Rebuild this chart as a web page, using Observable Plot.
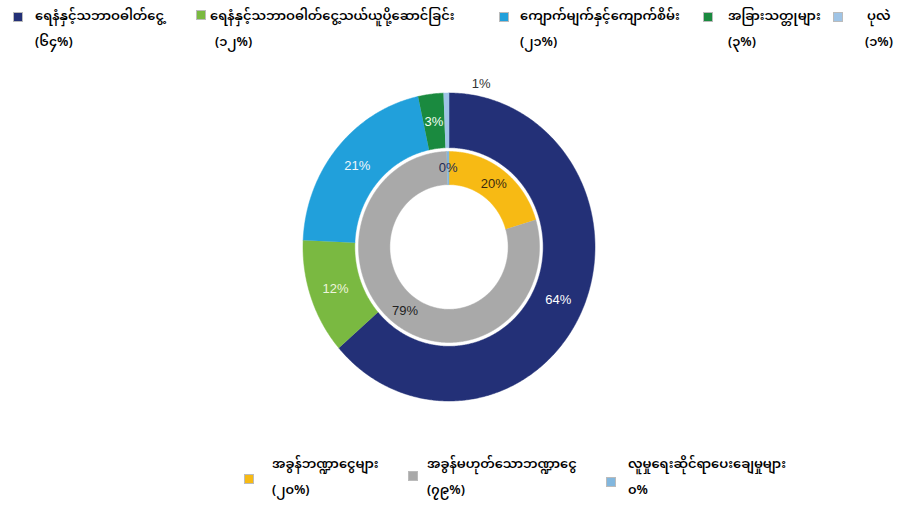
<!DOCTYPE html>
<html>
<head>
<meta charset="utf-8">
<script src="https://cdn.jsdelivr.net/npm/d3@7"></script>
<script src="https://cdn.jsdelivr.net/npm/@observablehq/plot@0.6"></script>
<style>
  html, body { margin: 0; padding: 0; background: #fff; }
  #wrap { position: relative; width: 906px; height: 511px; overflow: hidden; font-family: "Noto Sans Myanmar", "Padauk", "Myanmar Text", "Pyidaungsu", "Noto Sans", sans-serif; }
  .legend { position: relative; width: 906px; }
  .item { position: absolute; font-size: 13px; font-weight: 600; color: #000; line-height: 18px; white-space: nowrap; }
  .sw { position: absolute; width: 8px; height: 8px; box-shadow: 0 0 0 1px rgba(120,120,120,0.5); }
  .txt { position: absolute; }
  #chart svg { display: block; }
</style>
</head>
<body>
<div id="wrap">
  <div class="legend" id="topLegend" style="height:60px"></div>
  <div id="chart"></div>
  <div class="legend" id="bottomLegend" style="height:61px"></div>
</div>
<script>
// ---------- data ----------
const outerCats = ["ရေနံနှင့်သဘာဝဓါတ်ငွေ့", "ရေနံနှင့်သဘာဝဓါတ်ငွေ့သယ်ယူပို့ဆောင်ခြင်း", "ကျောက်မျက်နှင့်ကျောက်စိမ်း", "အခြားသတ္တုများ", "ပုလဲ"];
const outerValues = [63.6, 12.1, 20.9, 2.8, 0.6];
const outerLabels = ["64%", "12%", "21%", "3%", "1%"];
const outerLegendPct = ["(၆၄%)", "(၁၂%)", "(၂၁%)", "(၃%)", "(၁%)"];

const innerCats = ["အခွန်ဘဏ္ဍာငွေများ", "အခွန်မဟုတ်သောဘဏ္ဍာငွေ", "လူမှုရေးဆိုင်ရာပေးချေမှုများ"];
const innerValues = [20.4, 79.2, 0.4];
const innerLabels = ["20%", "79%", "0%"];
const innerLegendPct = ["(၂၀%)", "(၇၉%)", "၀%"];

// ---------- styles ----------
const outerColors = ["#233077", "#7ab941", "#21a0db", "#1a8a3f", "#9fc4e6"];
const innerColors = ["#f7ba14", "#a9a9a9", "#82b7de"];
const outerLabelColors = ["#ffffff", "#eef5dc", "#eef7fc", "#f2fff4", "#333333"];
const innerLabelColors = ["#3a2a10", "#222222", "#1d2b55"];

const rings = [
  {cats: outerCats, values: outerValues, labels: outerLabels, labelColors: outerLabelColors, r0: 0.645, r1: 1.0},
  {cats: innerCats, values: innerValues, labels: innerLabels, labelColors: innerLabelColors, r0: 0.405, r1: 0.62}
];

const polyPts = [];
const labelPts = [];
rings.forEach((ring, ri) => {
  const arcs = d3.pie().sort(null).value(d => d)(ring.values);
  arcs.forEach((a, i) => {
    const id = ri + "-" + i;
    const cat = ring.cats[i];
    const n = Math.max(2, Math.ceil((a.endAngle - a.startAngle) / (2 * Math.PI) * 720));
    for (let k = 0; k <= n; k++) {
      const t = a.startAngle + (a.endAngle - a.startAngle) * k / n;
      polyPts.push({id, cat, x: ring.r1 * Math.sin(t), y: ring.r1 * Math.cos(t)});
    }
    for (let k = n; k >= 0; k--) {
      const t = a.startAngle + (a.endAngle - a.startAngle) * k / n;
      polyPts.push({id, cat, x: ring.r0 * Math.sin(t), y: ring.r0 * Math.cos(t)});
    }
    const mid = (a.startAngle + a.endAngle) / 2;
    const small = ri === 0 && ring.values[i] < 1;
    const rm = small ? 1.06 : (ring.r0 + ring.r1) / 2;
    labelPts.push({text: ring.labels[i], color: ring.labelColors[i], small,
      x: rm * Math.sin(mid), y: rm * Math.cos(mid)});
  });
});

const allCats = [...outerCats, ...innerCats];
const allColors = [...outerColors, ...innerColors];

const pieCx = 448.5, pieCyPage = 246.5, svgTop = 60;
const pieRx = 146, pieRy = 154;
const pieCy = pieCyPage - svgTop;

const plot = Plot.plot({
  width: 906,
  height: 390,
  margin: 0,
  x: {domain: [-1, 1], range: [pieCx - pieRx, pieCx + pieRx], axis: null},
  y: {domain: [-1, 1], range: [pieCy + pieRy, pieCy - pieRy], axis: null},
  color: {domain: allCats, range: allColors},
  marks: [
    Plot.line(polyPts, {x: "x", y: "y", z: "id", fill: "cat", stroke: "cat", strokeWidth: 0.5, curve: "linear"}),
    Plot.text(labelPts.filter(d => !d.small), {x: "x", y: "y", text: "text", fill: d => d.color,
      fontSize: 13, fontFamily: "Liberation Sans, Arial, sans-serif"}),
    Plot.text(labelPts.filter(d => d.small), {x: "x", y: "y", text: "text", fill: d => d.color, dx: 35,
      fontSize: 13, fontFamily: "Liberation Sans, Arial, sans-serif"})
  ]
});
document.getElementById("chart").appendChild(plot);

// ---------- legends ----------
function addItem(container, color, name, pct, swX, swY, txtX, pctX, line1Y) {
  const it = document.createElement("div");
  it.className = "item";
  it.style.left = "0px"; it.style.top = "0px";
  const sw = document.createElement("div");
  sw.className = "sw"; sw.style.background = color;
  sw.style.left = swX + "px"; sw.style.top = swY + "px";
  const t1 = document.createElement("div");
  t1.className = "txt"; t1.textContent = name;
  t1.style.left = txtX + "px"; t1.style.top = (line1Y - 9) + "px";
  const t2 = document.createElement("div");
  t2.className = "txt"; t2.textContent = pct;
  t2.style.left = pctX + "px"; t2.style.top = (line1Y + 26 - 9) + "px";
  it.append(sw, t1, t2);
  container.appendChild(it);
}
const topL = document.getElementById("topLegend");
const topPos = [[14, 13, 35, 35], [197, 11, 210, 215], [500, 13, 520, 520], [704, 13, 728, 728], [834, 13, 867, 865]];
outerCats.forEach((c, i) => {
  const p = topPos[i];
  addItem(topL, outerColors[i], c, outerLegendPct[i], p[0], p[1], p[2], p[3], 17);
});
const botL = document.getElementById("bottomLegend");
const botPos = [[245, 25, 272, 272], [409, 22, 427, 427], [607, 28, 628, 628]];
innerCats.forEach((c, i) => {
  const p = botPos[i];
  addItem(botL, innerColors[i], c, innerLegendPct[i], p[0], p[1], p[2], p[3], 15);
});
</script>
</body>
</html>
